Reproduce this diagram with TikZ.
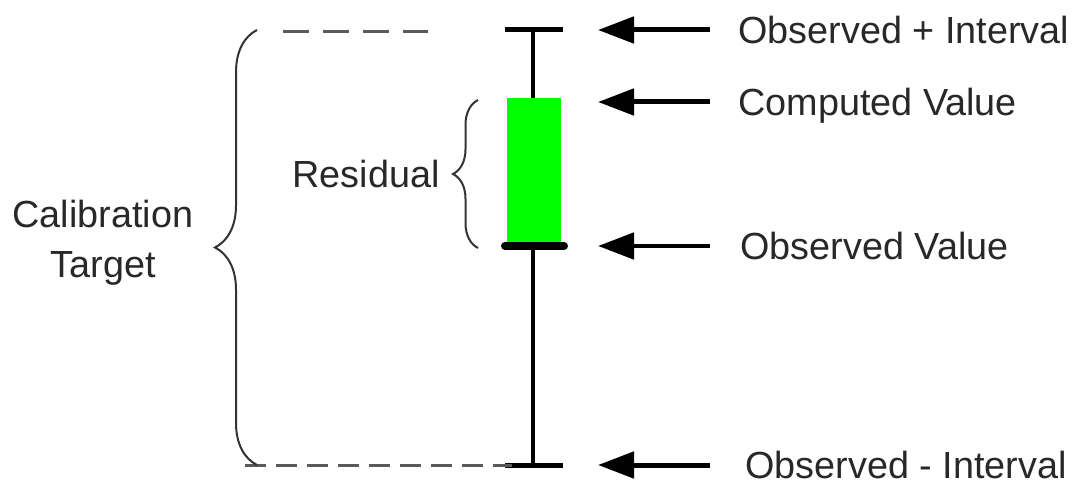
\documentclass[tikz,border=0pt]{standalone}
\usepackage{fontspec}
\setmainfont{Liberation Sans}
\usetikzlibrary{arrows.meta,decorations.pathreplacing}
\definecolor{residualgreen}{RGB}{0, 255, 0}
\definecolor{textgray}{RGB}{40, 40, 40}
\definecolor{guidegray}{RGB}{90, 90, 90}

\begin{document}
\begin{tikzpicture}[x=0.02cm, y=-0.02cm,
    valuetext/.style={font=\fontsize{21.5}{28.5}\selectfont, text=textgray, text height=0.55cm, text depth=0pt, inner xsep=0.56cm, inner ysep=0pt, anchor=west},
    pointer/.style={line width=0.1cm, -{Triangle[length=0.72cm, width=0.52cm]}},
    whisker/.style={line width=0.1cm},
    guide/.style={guidegray, line width=0.06cm, dash pattern=on 0.52cm off 0.28cm},
    bracket/.style={decorate, decoration={brace, amplitude=#1}, line width=0.04cm, black!80}]
    \useasboundingbox (0,0) rectangle (1078,486);

    % Stem and box
    \draw[line width=0.08cm] (533,30) -- (533,465);
    \node[fill=residualgreen, minimum width=1.08cm, minimum height=2.94cm, inner sep=0pt] (bar) at (534,171.5) {};

    % Whiskers
    \draw[whisker] (505,30) -- (563,30);
    \draw[whisker] (505,465) -- (563,465);
    \draw[line width=0.16cm, line cap=round] (505,246) -- (564,246);

    % Guides to the big brace
    \draw[guide] (283,32) -- (428,32);
    \draw[guide, dash pattern=on 0.42cm off 0.2cm] (245,465) -- (512,465);

    % Braces
    \draw[bracket=0.84cm] (257,465) -- (257,30);
    \draw[bracket=0.5cm] (478,248) -- (478,100);

    % Labels
    \node[valuetext] (obsplus) at (710,30) {Observed + Interval};
    \node[valuetext] (computed) at (710,102) {Computed Value};
    \node[valuetext, inner xsep=0.6cm] (obsval) at (710,246) {Observed Value};
    \node[valuetext, inner xsep=0.7cm] (obsminus) at (710,465) {Observed - Interval};

    \coordinate (restip) at (453,174);
    \node[valuetext, anchor=east, inner xsep=0.26cm] (residual) at (restip) {Residual};
    \node[font=\fontsize{21.5}{28.5}\selectfont, text=textgray, align=center] (target) at (103,243) {Calibration\\Target};

    % Pointers
    \coordinate (plustip) at (598,30);
    \coordinate (comptip) at (598,102);
    \coordinate (valtip) at (598,246);
    \coordinate (minustip) at (598,465);
    \draw[pointer] (obsplus.west) -- (plustip);
    \draw[pointer] (computed.west) -- (comptip);
    \draw[pointer] (obsval.west) -- (valtip);
    \draw[pointer] (obsminus.west) -- (minustip);
\end{tikzpicture}
\end{document}
